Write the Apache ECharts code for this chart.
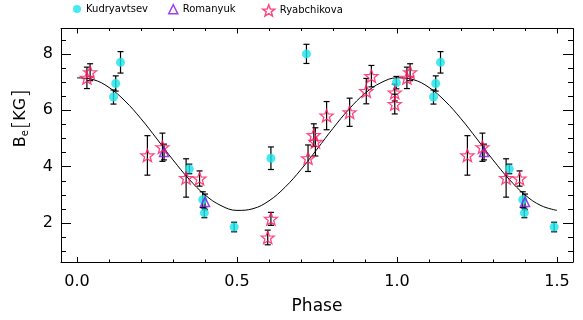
<!DOCTYPE html>
<html>
<head>
<meta charset="utf-8">
<script src="https://cdn.jsdelivr.net/npm/echarts@6/dist/echarts.min.js"></script>
<style>
  html, body { margin: 0; padding: 0; background: #fff; }
  #chart { width: 583px; height: 320px; }
</style>
</head>
<body>
<div id="chart"></div>
<script>
// Kudryavtsev (cyan dots)
var kudPhase = [0.114, 0.121, 0.136, 0.351, 0.393, 0.398, 0.491, 0.606, 0.717, 0.998];
var kudB     = [6.47, 6.95, 7.70, 3.92, 2.83, 2.36, 1.86, 4.30, 8.00, 6.98];
var kudErr   = [0.25, 0.27, 0.38, 0.17, 0.28, 0.17, 0.17, 0.40, 0.34, 0.22];

// Romanyuk (purple triangles)
var romPhase = [0.272, 0.400];
var romB     = [4.52, 2.75];
var romErr   = [0.28, 0.28];

// Ryabchikova (red stars)
var ryaPhase = [0.031, 0.041, 0.220, 0.267, 0.341, 0.383, 0.596, 0.606, 0.722, 0.740, 0.745, 0.780, 0.852, 0.904, 0.920, 0.993, 0.993];
var ryaB     = [7.15, 7.35, 4.40, 4.69, 3.60, 3.58, 1.49, 2.15, 4.30, 5.12, 4.88, 5.81, 5.93, 6.68, 7.21, 6.63, 6.22];
var ryaErr   = [0.38, 0.30, 0.70, 0.50, 0.68, 0.27, 0.26, 0.23, 0.47, 0.40, 0.50, 0.50, 0.50, 0.45, 0.38, 0.30, 0.35];

// fitted curve, every 0.05 in phase
var fitPhase = [0, 0.05, 0.1, 0.15, 0.2, 0.25, 0.3, 0.35, 0.4, 0.45, 0.5, 0.55, 0.6, 0.65, 0.7, 0.75,
                0.8, 0.85, 0.9, 0.95, 1.0, 1.05, 1.1, 1.15, 1.2, 1.25, 1.3, 1.35, 1.4, 1.45, 1.5];
var fitB     = [7.15, 7.09, 6.81, 6.33, 5.70, 4.98, 4.24, 3.56, 3.00, 2.62, 2.45, 2.51, 2.79, 3.27, 3.90, 4.62,
                5.36, 6.04, 6.60, 6.98, 7.15, 7.09, 6.81, 6.33, 5.70, 4.98, 4.24, 3.56, 3.00, 2.62, 2.45];

// ticks
var xMajorTicks = [0, 0.5, 1.0, 1.5];
var xMinorTicks = [0.1, 0.2, 0.3, 0.4, 0.6, 0.7, 0.8, 0.9, 1.1, 1.2, 1.3, 1.4];
var yMajorTicks = [2, 4, 6, 8];
var yMinorTicks = [1, 1.5, 2.5, 3, 3.5, 4.5, 5, 5.5, 6.5, 7, 7.5, 8.5];

var FONT = 'DejaVu Sans';
var CYAN = '#18e4e8';
var PURPLE = '#8010f0';
var RED = '#ff1860';
var STAR = 'path://M12,1 L14.9,8.6 L23,8.9 L16.7,14 L18.9,21.8 L12,17.3 L5.1,21.8 L7.3,14 L1,8.9 L9.1,8.6 Z';

// phases below 0.5 are repeated one cycle later
function points(ph, b) {
    var out = [];
    for (var i = 0; i < ph.length; i++) {
        out.push([ph[i], b[i]]);
        if (ph[i] <= 0.5) out.push([ph[i] + 1, b[i]]);
    }
    return out;
}
function bars(ph, b, e) {
    var out = [];
    for (var i = 0; i < ph.length; i++) {
        out.push([ph[i], b[i] - e[i], b[i] + e[i]]);
        if (ph[i] <= 0.5) out.push([ph[i] + 1, b[i] - e[i], b[i] + e[i]]);
    }
    return out;
}

var errData = bars(kudPhase, kudB, kudErr)
    .concat(bars(romPhase, romB, romErr))
    .concat(bars(ryaPhase, ryaB, ryaErr));

var fitData = fitPhase.map(function (p, i) { return [p, fitB[i]]; });

function renderErr(params, api) {
    var x = api.value(0);
    var lo = api.coord([x, api.value(1)]);
    var hi = api.coord([x, api.value(2)]);
    var c = 3;
    var st = { stroke: '#000', lineWidth: 1.2 };
    return {
        type: 'group',
        children: [
            { type: 'line', shape: { x1: lo[0], y1: lo[1], x2: hi[0], y2: hi[1] }, style: st },
            { type: 'line', shape: { x1: lo[0] - c, y1: lo[1], x2: lo[0] + c, y2: lo[1] }, style: st },
            { type: 'line', shape: { x1: hi[0] - c, y1: hi[1], x2: hi[0] + c, y2: hi[1] }, style: st }
        ]
    };
}

function xAx(pos, ticks, len, showLine, labels) {
    return {
        type: 'value', position: pos, min: -0.05, max: 1.55,
        splitLine: { show: false },
        axisLine: { show: showLine, onZero: false, lineStyle: { color: '#000', width: 1 } },
        axisTick: { show: true, inside: true, length: len, customValues: ticks, lineStyle: { color: '#000' } },
        axisLabel: labels ? {
            show: true, customValues: ticks, margin: 12, color: '#000', fontSize: 16, fontFamily: FONT,
            formatter: function (v) { return v.toFixed(1); }
        } : { show: false }
    };
}
function yAx(pos, ticks, len, showLine, labels) {
    return {
        type: 'value', position: pos, min: 0.62, max: 8.9,
        splitLine: { show: false },
        axisLine: { show: showLine, onZero: false, lineStyle: { color: '#000', width: 1 } },
        axisTick: { show: true, inside: true, length: len, customValues: ticks, lineStyle: { color: '#000' } },
        axisLabel: labels ? {
            show: true, customValues: ticks, margin: 8, color: '#000', fontSize: 16, fontFamily: FONT
        } : { show: false }
    };
}

var xAxes = [
    xAx('bottom', xMajorTicks, 5, true, true),
    xAx('bottom', xMinorTicks, 2.5, false, false),
    xAx('top', xMajorTicks, 5, true, false),
    xAx('top', xMinorTicks, 2.5, false, false)
];
xAxes[0].name = 'Phase';
xAxes[0].nameLocation = 'middle';
xAxes[0].nameGap = 36;
xAxes[0].nameTextStyle = { color: '#000', fontSize: 17, fontFamily: FONT };

var yAxes = [
    yAx('left', yMajorTicks, 10, true, true),
    yAx('left', yMinorTicks, 5, false, false),
    yAx('right', yMajorTicks, 10, true, false),
    yAx('right', yMinorTicks, 5, false, false)
];
yAxes[0].name = '{b|B}{s|e}{k|[}{b|KG}{k|]}';
yAxes[0].nameLocation = 'middle';
yAxes[0].nameRotate = 90;
yAxes[0].nameGap = 28;
yAxes[0].nameTextStyle = {
    color: '#000', fontFamily: FONT, padding: [0, 0, 0, 54],
    rich: {
        b: { fontSize: 16, fontFamily: FONT, color: '#000' },
        s: { fontSize: 10, fontFamily: FONT, color: '#000', padding: [9, 1, 0, 0] },
        k: { fontSize: 22, fontFamily: FONT, color: '#000', fontWeight: 'lighter' }
    }
};

function legendAt(left, name, icon, size, style) {
    return {
        left: left, top: 4, padding: 0, itemWidth: size, itemHeight: size, itemGap: 0,
        textStyle: { fontSize: 10, fontFamily: FONT, color: '#000' },
        data: [{ name: name, icon: icon, itemStyle: style }]
    };
}

var chart = echarts.init(document.getElementById('chart'));
var option = {
    animation: false,
    backgroundColor: '#fff',
    grid: { left: 61, right: 10, top: 28.5, bottom: 54.5, containLabel: false },
    legend: [
        legendAt(73, 'Kudryavtsev', 'circle', 8, { color: CYAN, borderWidth: 0 }),
        legendAt(168, 'Romanyuk', 'triangle', 9, { color: 'rgba(0,0,0,0)', borderColor: PURPLE, borderWidth: 1.5 }),
        legendAt(262, 'Ryabchikova', STAR, 12, { color: 'rgba(0,0,0,0)', borderColor: RED, borderWidth: 1.5 })
    ],
    xAxis: xAxes,
    yAxis: yAxes,
    series: [
        {
            type: 'line', name: 'fit', data: fitData, smooth: 0.4, showSymbol: false, silent: true,
            lineStyle: { color: '#000', width: 1 }, z: 1
        },
        {
            type: 'custom', name: 'err', data: errData, renderItem: renderErr,
            encode: { x: 0, y: [1, 2] }, z: 2, silent: true
        },
        {
            type: 'scatter', name: 'Kudryavtsev', data: points(kudPhase, kudB),
            symbol: 'circle', symbolSize: 9, itemStyle: { color: CYAN }, z: 3
        },
        {
            type: 'scatter', name: 'Romanyuk', data: points(romPhase, romB),
            symbol: 'triangle', symbolSize: 9,
            itemStyle: { color: 'rgba(0,0,0,0)', borderColor: PURPLE, borderWidth: 1.5 }, z: 4
        },
        {
            type: 'scatter', name: 'Ryabchikova', data: points(ryaPhase, ryaB),
            symbol: STAR, symbolSize: 13, symbolKeepAspect: true,
            itemStyle: { color: 'rgba(0,0,0,0)', borderColor: RED, borderWidth: 1.3 }, z: 5
        }
    ]
};
chart.setOption(option);
window.onresize = chart.resize;
</script>
</body>
</html>
